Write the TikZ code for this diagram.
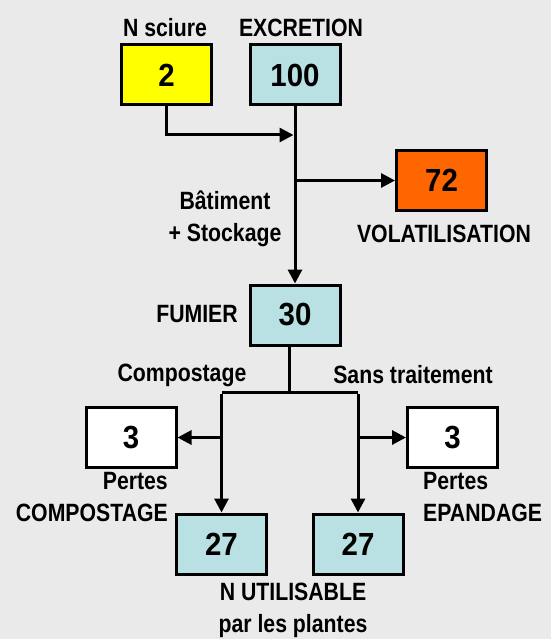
\documentclass[tikz,border=0pt]{standalone}
\usepackage{fontspec}
\setmainfont{Liberation Sans}[FakeStretch=0.85]
\newfontfamily\numfont{Liberation Sans}[FakeStretch=0.92]
\usetikzlibrary{arrows.meta}
\definecolor{bgcol}{RGB}{234,234,234}
\definecolor{paleblue}{RGB}{185,224,227}
\definecolor{flowyellow}{RGB}{255,255,0}
\definecolor{floworange}{RGB}{255,102,0}
\begin{document}
\begin{tikzpicture}[x=1pt, y=-1pt,
    box/.style={draw, line width=3pt, minimum width=90pt, minimum height=60pt,
        font=\numfont\bfseries\fontsize{32}{36}\selectfont},
    lbl/.style={inner sep=0pt, font=\bfseries\fontsize{25}{32}\selectfont},
    flow/.style={line width=3pt, -{Triangle[length=14pt,width=14pt]}},
    line/.style={line width=3pt}]
    \fill[bgcol] (0, 0) rectangle (551, 639);
    \useasboundingbox (0, 0) rectangle (551, 639);

    \node[box, fill=flowyellow] (sciure) at (166.5, 75) {2};
    \node[box, fill=paleblue] (excretion) at (295, 75) {100};
    \node[box, fill=floworange] (volat) at (441.5, 180.5) {72};
    \node[box, fill=paleblue] (fumier) at (295, 315) {30};
    \node[box, fill=white] (pertecomp) at (131, 437.5) {3};
    \node[box, fill=white] (perteepand) at (452.5, 437.5) {3};
    \node[box, fill=paleblue] (utilcomp) at (221.5, 544) {27};
    \node[box, fill=paleblue] (utilsans) at (358, 544) {27};

    \node[lbl] (lsciure) at (165, 28) {N sciure};
    \node[lbl] (lexcretion) at (301, 28) {EXCRETION};
    \node[lbl] (lvolat) at (444, 234) {VOLATILISATION};
    \node[lbl, align=center] (lbatiment) at (225, 219) {Bâtiment\\+ Stockage};
    \node[lbl] (lfumier) at (197, 314) {FUMIER};
    \node[lbl] (lcompost) at (182, 375) {Compostage};
    \node[lbl] (lsans) at (413, 375) {Sans traitement};
    \node[lbl, align=right, anchor=east] (lpertecomp) at (168, 497) {Pertes\\COMPOSTAGE};
    \node[lbl, align=left, anchor=west] (lperteepand) at (423, 497) {Pertes\\EPANDAGE};
    \node[lbl, align=center] (lutil) at (293, 610) {N UTILISABLE\\par les plantes};

    \coordinate (jsciure) at (295, 135);
    \coordinate (jvolat) at (295, 180.5);
    \coordinate (split) at (289, 392);
    \coordinate (splitl) at (221.5, 392);
    \coordinate (splitr) at (358, 392);
    \coordinate (jcomp) at (221.5, 437.5);
    \coordinate (jepand) at (358, 437.5);

    \draw[flow] (excretion.south) -- (fumier.north);
    \draw[flow, shorten >=1.5pt] (sciure.south) |- (jsciure);
    \draw[flow] (jvolat) -- (volat.west);
    \draw[line] (fumier.south -| split) -- (split);
    \draw[line] (splitl) -- (splitr);
    \draw[flow] ([yshift=-1.5pt]splitl) -- (utilcomp.north);
    \draw[flow] ([yshift=-1.5pt]splitr) -- (utilsans.north);
    \draw[flow] (jcomp) -- (pertecomp.east);
    \draw[flow] (jepand) -- (perteepand.west);
\end{tikzpicture}
\end{document}
